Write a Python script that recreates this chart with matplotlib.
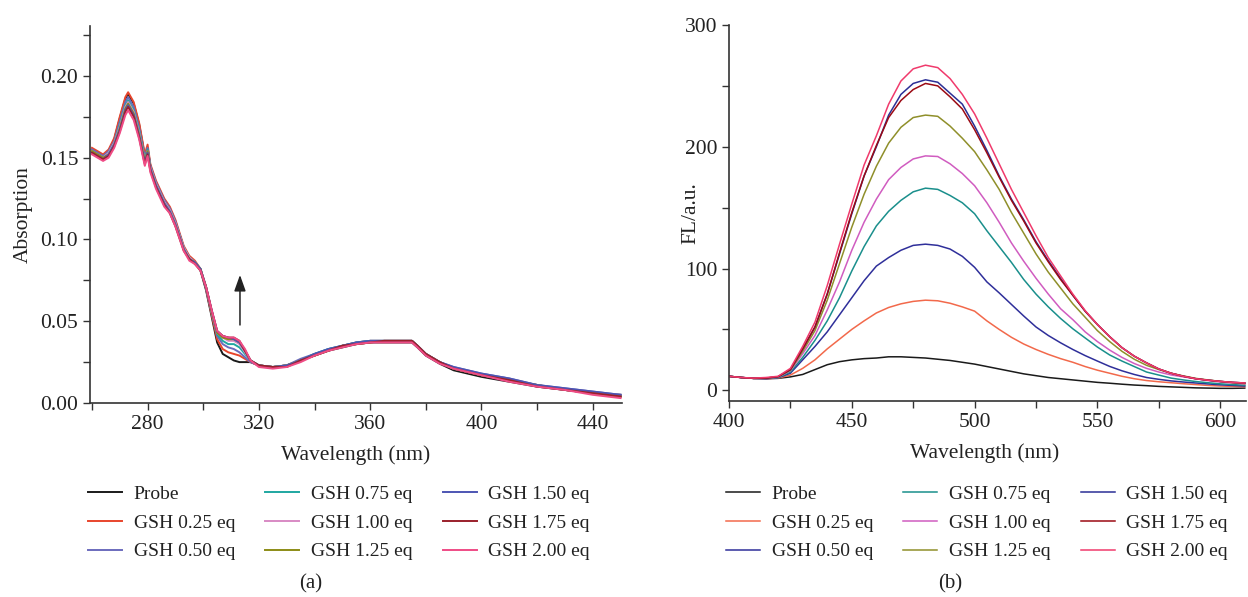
import matplotlib
matplotlib.use("Agg")
import matplotlib.pyplot as plt
from matplotlib.ticker import MultipleLocator

plt.rcParams["font.family"] = ["Liberation Serif", "DejaVu Serif"]
plt.rcParams["font.size"] = 14

labels = ["Probe", "GSH 0.25 eq", "GSH 0.50 eq", "GSH 0.75 eq", "GSH 1.00 eq",
          "GSH 1.25 eq", "GSH 1.50 eq", "GSH 1.75 eq", "GSH 2.00 eq"]

# ---- (a) UV-vis absorption ----
wl_abs = [260, 262, 264, 266, 268, 270, 272, 273, 275, 277, 279, 280, 281, 283, 286, 288,
          290, 293, 295, 297, 299, 301, 303, 305, 307, 309, 311, 313, 315, 317, 320, 325,
          330, 335, 340, 345, 350, 355, 360, 365, 370, 375, 377, 380, 385, 390, 395, 400,
          410, 420, 430, 440, 450]

abs_probe = [0.155, 0.153, 0.151, 0.154, 0.161, 0.174, 0.186, 0.189, 0.183, 0.170, 0.151, 0.156, 0.145, 0.135, 0.124, 0.119,
             0.111, 0.095, 0.089, 0.086, 0.081, 0.069, 0.053, 0.037, 0.030, 0.028, 0.026, 0.025, 0.025, 0.025, 0.023, 0.022,
             0.023, 0.026, 0.029, 0.032, 0.034, 0.036, 0.037, 0.037, 0.037, 0.037, 0.034, 0.029, 0.024, 0.020, 0.018, 0.016,
             0.013, 0.010, 0.008, 0.006, 0.004]
abs_025 = [0.156, 0.154, 0.152, 0.155, 0.162, 0.175, 0.187, 0.190, 0.184, 0.171, 0.152, 0.158, 0.146, 0.136, 0.125, 0.120,
           0.112, 0.096, 0.090, 0.087, 0.082, 0.070, 0.054, 0.039, 0.033, 0.031, 0.030, 0.029, 0.027, 0.025, 0.023, 0.022,
           0.023, 0.026, 0.030, 0.032, 0.035, 0.037, 0.038, 0.038, 0.038, 0.038, 0.035, 0.030, 0.025, 0.021, 0.019, 0.017,
           0.014, 0.011, 0.008, 0.006, 0.005]
abs_050 = [0.155, 0.153, 0.151, 0.154, 0.160, 0.172, 0.184, 0.187, 0.181, 0.168, 0.150, 0.156, 0.145, 0.135, 0.124, 0.119,
           0.111, 0.095, 0.089, 0.086, 0.082, 0.070, 0.055, 0.041, 0.036, 0.034, 0.033, 0.031, 0.028, 0.025, 0.023, 0.022,
           0.023, 0.027, 0.030, 0.033, 0.035, 0.037, 0.038, 0.038, 0.038, 0.038, 0.035, 0.030, 0.025, 0.022, 0.020, 0.018,
           0.015, 0.011, 0.009, 0.007, 0.005]
abs_075 = [0.154, 0.152, 0.150, 0.153, 0.159, 0.170, 0.182, 0.185, 0.179, 0.166, 0.149, 0.155, 0.144, 0.134, 0.123, 0.118,
           0.110, 0.095, 0.089, 0.086, 0.082, 0.071, 0.056, 0.042, 0.038, 0.036, 0.036, 0.034, 0.030, 0.026, 0.023, 0.022,
           0.023, 0.026, 0.030, 0.033, 0.035, 0.037, 0.038, 0.038, 0.038, 0.038, 0.035, 0.030, 0.025, 0.021, 0.019, 0.017,
           0.014, 0.011, 0.008, 0.006, 0.005]
abs_100 = [0.154, 0.152, 0.150, 0.153, 0.159, 0.169, 0.181, 0.184, 0.178, 0.165, 0.148, 0.154, 0.144, 0.134, 0.123, 0.118,
           0.110, 0.095, 0.089, 0.086, 0.082, 0.071, 0.056, 0.043, 0.040, 0.038, 0.038, 0.036, 0.031, 0.026, 0.023, 0.022,
           0.023, 0.026, 0.029, 0.032, 0.035, 0.036, 0.037, 0.038, 0.038, 0.038, 0.035, 0.030, 0.025, 0.021, 0.019, 0.017,
           0.014, 0.011, 0.008, 0.006, 0.005]
abs_125 = [0.154, 0.152, 0.150, 0.152, 0.158, 0.168, 0.180, 0.183, 0.177, 0.164, 0.148, 0.154, 0.143, 0.133, 0.122, 0.117,
           0.109, 0.094, 0.088, 0.086, 0.082, 0.071, 0.056, 0.043, 0.040, 0.039, 0.039, 0.037, 0.032, 0.026, 0.023, 0.022,
           0.023, 0.026, 0.029, 0.032, 0.035, 0.036, 0.037, 0.038, 0.038, 0.038, 0.035, 0.030, 0.025, 0.021, 0.019, 0.017,
           0.014, 0.011, 0.008, 0.006, 0.004]
abs_150 = [0.153, 0.151, 0.149, 0.152, 0.158, 0.167, 0.179, 0.182, 0.176, 0.163, 0.147, 0.153, 0.143, 0.133, 0.122, 0.117,
           0.109, 0.094, 0.088, 0.086, 0.082, 0.071, 0.057, 0.044, 0.041, 0.040, 0.039, 0.037, 0.032, 0.026, 0.023, 0.022,
           0.023, 0.026, 0.030, 0.033, 0.035, 0.037, 0.038, 0.038, 0.038, 0.038, 0.035, 0.030, 0.025, 0.022, 0.020, 0.018,
           0.015, 0.011, 0.009, 0.007, 0.005]
abs_175 = [0.153, 0.151, 0.149, 0.151, 0.157, 0.166, 0.178, 0.181, 0.175, 0.162, 0.146, 0.152, 0.142, 0.132, 0.121, 0.116,
           0.108, 0.093, 0.088, 0.085, 0.081, 0.071, 0.057, 0.044, 0.041, 0.040, 0.040, 0.038, 0.032, 0.026, 0.023, 0.022,
           0.022, 0.026, 0.029, 0.032, 0.035, 0.036, 0.037, 0.038, 0.038, 0.038, 0.035, 0.030, 0.025, 0.021, 0.019, 0.017,
           0.014, 0.010, 0.008, 0.006, 0.004]
abs_200 = [0.152, 0.150, 0.148, 0.150, 0.156, 0.165, 0.176, 0.179, 0.173, 0.161, 0.145, 0.151, 0.141, 0.131, 0.120, 0.116,
           0.108, 0.093, 0.087, 0.085, 0.081, 0.071, 0.057, 0.044, 0.041, 0.040, 0.040, 0.038, 0.033, 0.026, 0.022, 0.021,
           0.022, 0.025, 0.029, 0.032, 0.034, 0.036, 0.037, 0.037, 0.037, 0.037, 0.034, 0.029, 0.024, 0.021, 0.019, 0.017,
           0.013, 0.010, 0.008, 0.005, 0.003]

# ---- (b) fluorescence ----
wl_fl = [400, 405, 410, 415, 420, 425, 430, 435, 440, 445, 450, 455, 460, 465, 470, 475, 480, 485,
         490, 495, 500, 505, 510, 515, 520, 525, 530, 535, 540, 545, 550, 555, 560, 565, 570, 575,
         580, 585, 590, 595, 600, 605, 610]

fl_probe = [11.5, 10.5, 9.8, 9.5, 9.8, 11, 13, 17, 21, 23.5, 25, 26, 26.5, 27.5, 27.5, 27, 26.5, 25.5,
            24.5, 23, 21.5, 19.5, 17.5, 15.5, 13.5, 12, 10.5, 9.5, 8.5, 7.5, 6.5, 5.8, 5, 4.3, 3.8, 3.2,
            2.8, 2.4, 2, 1.8, 1.6, 1.6, 1.8]
fl_025 = [11.5, 10.5, 9.8, 9.5, 10, 12.5, 18, 25, 34, 42, 50, 57, 63.5, 68, 71, 73, 74, 73.5,
          71.5, 68.5, 65, 57, 50, 43.5, 38, 33.5, 29.5, 26, 23, 19.5, 16.5, 14, 11.5, 9.5, 8, 7,
          6.2, 5.4, 4.7, 4, 3.5, 3.2, 3]
fl_050 = [11.5, 10.5, 9.8, 9.5, 10.3, 14, 25, 36, 48, 62, 76, 90, 102, 109, 115, 119, 120, 119,
          116, 110, 101, 89, 80, 70.5, 61, 52, 45, 39, 33.5, 28.5, 24, 19.6, 16, 13, 10.5, 9,
          7.7, 6.8, 6, 5.2, 4.5, 4, 3.5]
fl_075 = [11.5, 10.5, 9.8, 9.7, 10.5, 15, 27, 41, 57, 76, 98, 118, 135, 147, 156, 163, 166, 165,
          160, 154, 145, 131, 118, 105, 91, 79, 68.5, 59, 50.5, 43, 35.5, 29, 24, 19.5, 15, 12.5,
          10, 8.5, 7.2, 6.2, 5.3, 4.7, 4.2]
fl_100 = [11.5, 10.5, 9.8, 9.8, 10.8, 16, 30, 45, 66, 89, 115, 138, 157, 173, 183, 190, 192.5, 192,
          186, 178, 168, 154, 138, 121, 106, 92, 79, 67, 58, 48, 40, 33, 27, 22, 18, 15,
          12.6, 11, 9.5, 8, 6.8, 6, 5.2]
fl_125 = [11.5, 10.5, 9.8, 10, 11, 16.5, 32, 49, 74, 104, 134, 161, 184, 203, 216, 224, 226, 225,
          217, 207, 196, 181, 165, 146, 129, 112, 97, 84, 71, 60, 49, 40, 32, 25.5, 20.5, 17,
          14, 11.8, 9.8, 8.5, 7.3, 6.3, 5.5]
fl_150 = [11.5, 10.5, 9.8, 10, 11.2, 17, 34, 52, 79, 112, 145, 176, 200, 226, 243, 252, 255, 253,
          244, 235, 217, 197, 176, 157, 140, 122, 106.5, 92, 78, 65, 54, 44, 35, 28, 22.5, 17.5,
          14, 11.5, 9.5, 8.3, 7.3, 6.5, 6]
fl_175 = [11.5, 10.5, 9.8, 10, 11.2, 17, 34, 52, 79, 113, 146, 176, 201, 224, 238, 247, 252, 250,
          241, 231, 214, 195, 175, 156, 139, 121, 105.5, 91, 78, 65, 54, 44, 35, 28, 22.5, 17.5,
          14, 11.5, 9.5, 8.3, 7.3, 6.5, 6]
fl_200 = [11.5, 10.5, 10, 10.5, 11.5, 18, 36, 56, 86, 120, 153, 185, 209, 235, 254, 264, 267, 265,
          256, 243, 227, 207, 186, 165, 146, 127, 109, 94, 79, 65.5, 54, 44, 35, 28, 22.5, 17.5,
          14, 11.5, 9.5, 8.3, 7.3, 6.5, 6]

abs_series = [abs_probe, abs_025, abs_050, abs_075, abs_100, abs_125, abs_150, abs_175, abs_200]
fl_series = [fl_probe, fl_025, fl_050, fl_075, fl_100, fl_125, fl_150, fl_175, fl_200]

abs_colors = ["#1a1a1a", "#e8452c", "#6b6bbd", "#1fa7a1", "#d88ac4",
              "#8c8c16", "#4d55b3", "#9a1f2b", "#ef4c86"]
fl_colors = ["#1a1a1a", "#f2694b", "#2f2f9a", "#1a8f8c", "#d05cc0",
             "#8f8f2a", "#2b2f96", "#9b0a14", "#f03a6c"]

W, H = 1248, 597
fig = plt.figure(figsize=(W / 100, H / 100), dpi=100)


def frac(l, r, t, b):
    return [l / W, 1 - b / H, (r - l) / W, (b - t) / H]


ax1 = fig.add_axes(frac(90, 622, 26, 403))
ax2 = fig.add_axes(frac(729, 1246, 25, 401))

TXT = 15.5
for ax in (ax1, ax2):
    ax.spines["top"].set_visible(False)
    ax.spines["right"].set_visible(False)
    for s in ("left", "bottom"):
        ax.spines[s].set_color("#333333")
        ax.spines[s].set_linewidth(1.2)
    ax.tick_params(which="both", direction="out", color="#333333", labelcolor="#222222",
                   labelsize=TXT, width=1.0, length=5)

for ys, c, lab in zip(abs_series, abs_colors, labels):
    ax1.plot(wl_abs, ys, color=c, lw=1.4, label=lab)
ax1.set_xlim(259.3, 450.5)
ax1.set_ylim(0, 0.2305)
ax1.xaxis.set_major_locator(MultipleLocator(40))
ax1.xaxis.set_minor_locator(MultipleLocator(20))
ax1.yaxis.set_major_locator(MultipleLocator(0.05))
ax1.yaxis.set_minor_locator(MultipleLocator(0.025))
ax1.yaxis.set_major_formatter(plt.FuncFormatter(lambda v, p: f"{v:.2f}"))
ax1.set_xlabel("Wavelength (nm)", fontsize=TXT, color="#222222")
ax1.set_ylabel("Absorption", fontsize=TXT, color="#222222")
ax1.xaxis.set_label_coords(0.5, -0.113)
ax1.yaxis.set_label_coords(-0.108, 0.5)
ax1.annotate("", xy=(313.2, 0.080), xytext=(313.2, 0.046),
             arrowprops=dict(arrowstyle="-|>,head_length=0.7,head_width=0.25",
                             color="#222222", lw=1.1))

for ys, c, lab in zip(fl_series, fl_colors, labels):
    ax2.plot(wl_fl, ys, color=c, lw=1.1, label=lab)
ax2.set_xlim(400, 610.5)
ax2.set_ylim(-8.8, 300)
ax2.xaxis.set_major_locator(MultipleLocator(50))
ax2.xaxis.set_minor_locator(MultipleLocator(25))
ax2.yaxis.set_major_locator(MultipleLocator(100))
ax2.yaxis.set_minor_locator(MultipleLocator(50))
ax2.set_xlabel("Wavelength (nm)", fontsize=TXT, color="#222222")
ax2.set_ylabel("FL/a.u.", fontsize=TXT, color="#222222")
ax2.xaxis.set_label_coords(0.495, -0.113)
ax2.yaxis.set_label_coords(-0.055, 0.5)

leg_kw = dict(ncol=3, frameon=False, fontsize=14, handlelength=1.75, handletextpad=0.6,
              columnspacing=1.55, labelspacing=0.58, borderpad=0, borderaxespad=0,
              loc="upper left", bbox_transform=fig.transFigure)
for t in ax1.legend(bbox_to_anchor=(88 / W, 1 - 485 / H), **leg_kw).get_texts():
    t.set_color("#222222")
for t in ax2.legend(bbox_to_anchor=(726 / W, 1 - 485 / H), **leg_kw).get_texts():
    t.set_color("#222222")

fig.text(311 / W, 1 - 584 / H, "(a)", ha="center", va="center", fontsize=15, color="#222222")
fig.text(950 / W, 1 - 584 / H, "(b)", ha="center", va="center", fontsize=15, color="#222222")

fig.savefig("out.png", dpi=100)
